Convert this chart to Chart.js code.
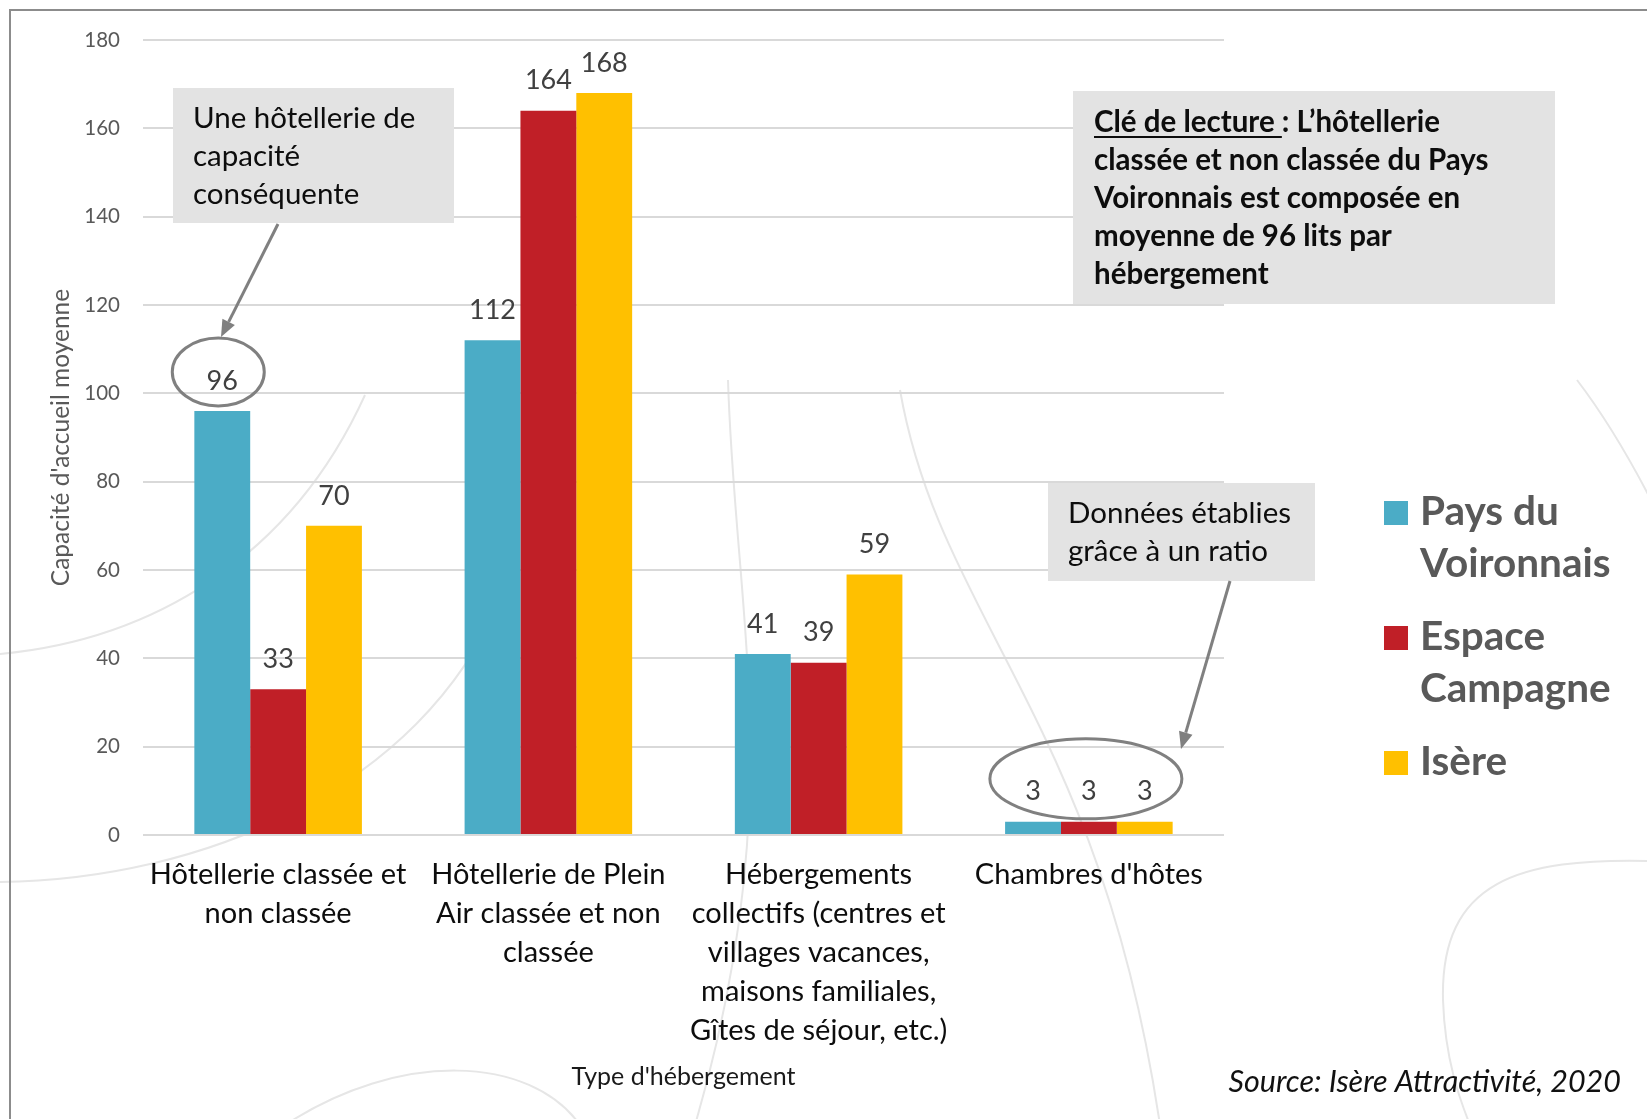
<!DOCTYPE html>
<html>
<head>
<meta charset="utf-8">
<script src="https://cdn.jsdelivr.net/npm/chart.js@4.4.1/dist/chart.umd.min.js"></script>
<style>
  html, body { margin: 0; padding: 0; background: #fff; }
  #wrap { position: relative; width: 1647px; height: 1119px; }
</style>
</head>
<body>
<div id="wrap"><canvas id="chart" width="1647" height="1119"></canvas></div>
<script>
// Average capacity per accommodation type
const categories = [
    ['Hôtellerie classée et', 'non classée'],
    ['Hôtellerie de Plein', 'Air classée et non', 'classée'],
    ['Hébergements', 'collectifs (centres et', 'villages vacances,', 'maisons familiales,', 'Gîtes de séjour, etc.)'],
    ["Chambres d'hôtes"]
];
const seriesNames = ['Pays du Voironnais', 'Espace Campagne', 'Isère'];
const legendLines = [['Pays du', 'Voironnais'], ['Espace', 'Campagne'], ['Isère']];
const seriesColors = ['#4BACC6', '#C01F27', '#FFC000'];

const paysVoironnais = [96, 112, 41, 3];
const espaceCampagne = [33, 164, 39, 3];
const isere = [70, 168, 59, 3];

const yMin = 0;
const yMax = 180;
const yStep = 20;

const FONT = "Lato, 'Open Sans', sans-serif";
Chart.defaults.font.family = FONT;

// light decorative curves + frame behind the chart
const backdrop = {
    id: 'backdrop',
    beforeDraw(chart) {
        const ctx = chart.ctx;
        ctx.save();
        ctx.fillStyle = '#fff';
        ctx.fillRect(0, 0, chart.width, chart.height);

        ctx.strokeStyle = '#e6e6e6';
        ctx.lineWidth = 2;
        const curves = [
            [[0, 654], [150, 640], [290, 560], [365, 395]],
            [[0, 882], [200, 880], [420, 790], [500, 600]],
            [[285, 1125], [400, 1050], [530, 1055], [580, 1125]],
            [[728, 380], [735, 620], [790, 800], [695, 1125]],
            [[900, 390], [940, 620], [1100, 720], [1160, 1125]],
            [[1650, 861], [1520, 858], [1440, 880], [1443, 1000]],
            [[1443, 1000], [1445, 1060], [1460, 1100], [1470, 1125]],
            [[1577, 380], [1600, 410], [1625, 450], [1650, 498]]
        ];
        curves.forEach(c => {
            ctx.beginPath();
            ctx.moveTo(c[0][0], c[0][1]);
            ctx.bezierCurveTo(c[1][0], c[1][1], c[2][0], c[2][1], c[3][0], c[3][1]);
            ctx.stroke();
        });

        // frame (only left and top edges fall inside the page)
        ctx.strokeStyle = '#8c8c8c';
        ctx.lineWidth = 2;
        ctx.beginPath();
        ctx.moveTo(10, chart.height);
        ctx.lineTo(10, 10);
        ctx.lineTo(chart.width, 10);
        ctx.stroke();
        ctx.restore();
    }
};

// value above each bar
const valueLabels = {
    id: 'valueLabels',
    afterDatasetsDraw(chart) {
        const ctx = chart.ctx;
        ctx.save();
        ctx.font = '27px ' + FONT;
        ctx.fillStyle = '#404040';
        ctx.textAlign = 'center';
        ctx.textBaseline = 'middle';
        chart.data.datasets.forEach((ds, i) => {
            chart.getDatasetMeta(i).data.forEach((bar, j) => {
                ctx.fillText(ds.data[j], bar.x, bar.y - 30);
            });
        });
        ctx.restore();
    }
};

function arrow(ctx, x1, y1, x2, y2) {
    const a = Math.atan2(y2 - y1, x2 - x1);
    const len = 17, half = 7;
    const bx = x2 - len * Math.cos(a), by = y2 - len * Math.sin(a);
    ctx.beginPath();
    ctx.moveTo(x1, y1);
    ctx.lineTo(bx, by);
    ctx.stroke();
    ctx.beginPath();
    ctx.moveTo(x2, y2);
    ctx.lineTo(bx + half * Math.sin(a), by - half * Math.cos(a));
    ctx.lineTo(bx - half * Math.sin(a), by + half * Math.cos(a));
    ctx.closePath();
    ctx.fill();
}

function ellipse(ctx, cx, cy, rx, ry) {
    ctx.beginPath();
    ctx.ellipse(cx, cy, rx, ry, 0, 0, Math.PI * 2);
    ctx.stroke();
}

// call-out boxes, arrows, circled values, legend, source line
const notes = {
    id: 'notes',
    afterDraw(chart) {
        const ctx = chart.ctx;
        const x = chart.scales.x, y = chart.scales.y;
        ctx.save();

        // boxes
        ctx.fillStyle = '#e3e3e3';
        ctx.fillRect(173, 88, 281, 135);
        ctx.fillRect(1073, 91, 482, 213);
        ctx.fillRect(1048, 483, 267, 98);

        ctx.fillStyle = '#0d0d0d';
        ctx.textAlign = 'left';
        ctx.textBaseline = 'alphabetic';
        ctx.font = '29.5px ' + FONT;
        ['Une hôtellerie de', 'capacité', 'conséquente'].forEach((t, i) => ctx.fillText(t, 193, 128 + i * 38));
        ['Données établies', 'grâce à un ratio'].forEach((t, i) => ctx.fillText(t, 1068, 523 + i * 38));

        ctx.font = 'bold 29.5px ' + FONT;
        const head = 'Clé de lecture ';
        ctx.fillText(head, 1094, 132);
        const hw = ctx.measureText(head).width;
        ctx.fillRect(1094, 136, hw, 2);
        ctx.fillText(': L’hôtellerie', 1094 + hw, 132);
        ['classée et non classée du Pays', 'Voironnais est composée en', 'moyenne de 96 lits par', 'hébergement']
            .forEach((t, i) => ctx.fillText(t, 1094, 170 + i * 38));

        // arrows and circled values
        ctx.strokeStyle = '#808080';
        ctx.fillStyle = '#808080';
        ctx.lineWidth = 3;
        arrow(ctx, 278, 224, 221, 337);
        arrow(ctx, 1230, 581, 1181, 749);
        const first = chart.getDatasetMeta(0).data[0];
        ellipse(ctx, first.x - 4, first.y - 39, 46, 34);
        ellipse(ctx, x.getPixelForValue(3) - 3, y.getPixelForValue(paysVoironnais[3]) - 43, 96, 40);

        // legend
        ctx.font = 'bold 40.5px ' + FONT;
        ctx.textBaseline = 'alphabetic';
        chart.data.datasets.forEach((ds, i) => {
            const base = 525 + i * 125;
            ctx.fillStyle = ds.backgroundColor;
            ctx.fillRect(1384, base - 24, 24, 24);
            ctx.fillStyle = '#595959';
            legendLines[i].forEach((t, k) => ctx.fillText(t, 1420, base + k * 52));
        });

        // source
        ctx.font = 'italic 30.5px ' + FONT;
        ctx.fillStyle = '#111';
        ctx.textAlign = 'right';
        ctx.fillText('Source: Isère Attractivité, 2020', 1621, 1092);
        ctx.restore();
    }
};

new Chart(document.getElementById('chart'), {
    type: 'bar',
    data: {
        labels: categories,
        datasets: [
            { label: seriesNames[0], data: paysVoironnais, backgroundColor: seriesColors[0] },
            { label: seriesNames[1], data: espaceCampagne, backgroundColor: seriesColors[1] },
            { label: seriesNames[2], data: isere, backgroundColor: seriesColors[2] }
        ]
    },
    options: {
        responsive: false,
        animation: false,
        devicePixelRatio: 1,
        categoryPercentage: 0.62,
        barPercentage: 1.0,
        layout: { padding: { top: 40, right: 423, bottom: 0, left: 0 } },
        plugins: {
            legend: { display: false },
            tooltip: { enabled: false }
        },
        scales: {
            x: {
                grid: { display: false, drawTicks: false },
                border: { display: false },
                ticks: {
                    color: '#0d0d0d',
                    font: { size: 29, lineHeight: 1.345 },
                    padding: 20,
                    maxRotation: 0,
                    autoSkip: false
                },
                title: {
                    display: true,
                    text: "Type d'hébergement",
                    color: '#1a1a1a',
                    font: { size: 25 },
                    padding: { top: 0, bottom: 27 }
                },
                afterFit(scale) { scale.height = 284; }
            },
            y: {
                min: yMin,
                max: yMax,
                grid: { color: '#d9d9d9', lineWidth: 2, drawTicks: false },
                border: { display: false },
                ticks: {
                    stepSize: yStep,
                    color: '#595959',
                    font: { size: 20.5 },
                    padding: 23
                },
                title: {
                    display: true,
                    text: "Capacité d'accueil moyenne",
                    color: '#595959',
                    font: { size: 24.5 },
                    padding: { top: 46, bottom: 0 }
                },
                afterFit(scale) { scale.width = 143; }
            }
        }
    },
    plugins: [backdrop, valueLabels, notes]
});
</script>
</body>
</html>
